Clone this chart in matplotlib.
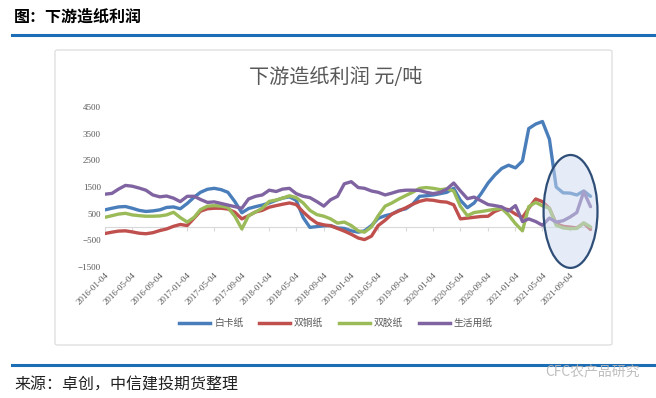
import matplotlib.pyplot as plt
import matplotlib.dates as mdates
from matplotlib.patches import Ellipse, FancyBboxPatch
from matplotlib.lines import Line2D
import pandas as pd

plt.rcParams['font.family'] = ['Noto Sans CJK SC', 'DejaVu Sans']

# monthly readings, 2016-01 .. 2021-12 (yuan / ton)
dates = pd.date_range('2016-01-04', periods=72, freq=pd.DateOffset(months=1))

baika = [640, 700, 750, 765, 700, 620, 580, 600, 640, 730, 750, 680,
         880, 1120, 1300, 1415, 1450, 1400, 1300, 950, 530, 690, 760, 820,
         900, 1000, 1080, 1130, 1000, 350, -20, 10, 40, 50, -40, -60,
         -150, -200, -150, 50, 320, 420, 480, 620, 680, 850, 1150, 1170,
         1200, 1250, 1300, 1450, 1000, 720, 900, 1250, 1650, 1950, 2200, 2320,
         2220, 2480, 3700, 3870, 3965, 3300, 1500, 1280, 1270, 1200, 1350, 1150]

shuangtong = [-250, -200, -160, -150, -190, -240, -260, -220, -140, -80, 20, 90,
              50, 330, 590, 680, 700, 700, 670, 550, 300, 420, 560, 620,
              740, 800, 850, 900, 840, 560, 330, 140, 75, 40, -60, -160,
              -280, -420, -480, -350, 50, 250, 480, 600, 720, 850, 960, 1020,
              1000, 950, 930, 830, 300, 330, 360, 390, 400, 580, 680, 650,
              480, 350, 700, 1050, 950, 700, 120, 20, -10, -40, 140, -100]

shuangjiao = [360, 420, 480, 510, 450, 420, 400, 400, 410, 450, 550, 350,
              180, 360, 650, 780, 800, 780, 730, 400, -80, 420, 560, 700,
              960, 1010, 1080, 1170, 1100, 900, 620, 460, 400, 300, 140, 180,
              50, -150, -200, 0, 420, 780, 900, 1050, 1180, 1300, 1450, 1480,
              1450, 1400, 1430, 1350, 770, 420, 540, 575, 620, 660, 690, 450,
              120, -150, 760, 920, 790, 700, 60, -40, -70, -60, 150, 0]

shenghuo = [1230, 1260, 1420, 1560, 1530, 1460, 1380, 1200, 1130, 1160, 1080, 950,
            1150, 1150, 1030, 920, 940, 880, 820, 760, 700, 1050, 1150, 1200,
            1380, 1330, 1420, 1450, 1250, 1150, 1100, 950, 780, 1020, 1150, 1620,
            1700, 1480, 1450, 1350, 1300, 1200, 1270, 1350, 1380, 1380, 1370, 1300,
            1250, 1300, 1420, 1650, 1350, 1060, 1120, 980, 840, 800, 750, 600,
            800, 200, 300, 200, 60, 330, 180, 230, 370, 540, 1330, 760]

series_names = ['白卡纸', '双铜纸', '双胶纸', '生活用纸']
series_colors = ['#4a7ebb', '#c0504d', '#9bbb59', '#8064a2']
tick_dates = pd.date_range('2016-01-04', '2021-09-04', freq=pd.DateOffset(months=4))

W, H = 656, 398
fig = plt.figure(figsize=(W / 100, H / 100), dpi=100)

# chart frame
frame = FancyBboxPatch((55 / W, 1 - 345 / H), (612 - 55) / W, (345 - 50) / H,
                       boxstyle='round,pad=0,rounding_size=0.004',
                       transform=fig.transFigure, facecolor='white',
                       edgecolor='#d9d9d9', lw=0.8, zorder=-5)
fig.add_artist(frame)

ax = fig.add_axes([105 / W, 1 - 266.7 / H, (593 - 105) / W, (266.7 - 107.3) / H])
ax.patch.set_alpha(0)
ax.set_zorder(2)

ax.axhline(0, color='#d9d9d9', lw=0.8, zorder=1)
ax.plot(tick_dates, [0] * len(tick_dates), ls='none', marker=3, ms=3,
        mec='#d9d9d9', mew=0.8, zorder=1)

for vals, name, col in zip([baika, shuangtong, shuangjiao, shenghuo],
                           series_names, series_colors):
    ax.plot(dates, vals, color=col, lw=2.4, label=name, zorder=3,
            solid_joinstyle='round', solid_capstyle='round')

ax.set_ylim(-1500, 4500)
ax.set_yticks(range(-1500, 4501, 1000))
ax.set_xlim(dates[0], pd.Timestamp('2021-12-15'))
ax.set_xticks(tick_dates)
ax.set_xticklabels([d.strftime('%Y-%m-%d') for d in tick_dates],
                   rotation=45, ha='right', rotation_mode='anchor')
ax.tick_params(length=0, labelsize=6.5, labelcolor='#595959', pad=3)
for lab in ax.get_xticklabels() + ax.get_yticklabels():
    lab.set_fontfamily('Liberation Serif')
for sp in ax.spines.values():
    sp.set_visible(False)

# highlight ellipse on the latest months
ell = Ellipse((mdates.date2num(pd.Timestamp('2021-09-06')), 580),
              width=240, height=4250, transform=ax.transData,
              facecolor=(0.80, 0.86, 0.94, 0.5), edgecolor='#2e4e78',
              lw=1.6, clip_on=False, zorder=5)
ax.add_patch(ell)

handles = [Line2D([], [], color=c, lw=2.5) for c in series_colors]
fig.legend(handles, series_names, loc='center', bbox_to_anchor=(0.512, 1 - 323 / H),
           ncol=4, frameon=False, fontsize=7, handlelength=3.2,
           columnspacing=1.6, handletextpad=0.4, labelcolor='#595959')

fig.text(0.512, 1 - 77 / H, '下游造纸利润 元/吨', fontsize=14.5, color='#595959',
         ha='center', va='center')

# page header / footer
fig.add_artist(Line2D([12 / W, 1], [1 - 35 / H] * 2, color='#1b6db5', lw=2.2))
fig.add_artist(Line2D([12 / W, 1], [1 - 365 / H] * 2, color='#1b6db5', lw=2.2))
fig.text(14 / W, 1 - 17 / H, '图：下游造纸利润', fontsize=11.5, weight='bold', va='center')
fig.text(14 / W, 1 - 385 / H, '来源：卓创，中信建投期货整理', fontsize=11.5,
         color='#222222', va='center')
fig.text(640 / W, 1 - 372 / H, 'CFC农产品研究', fontsize=10, color='#b8b8b8',
         ha='right', va='center', alpha=0.9)

fig.savefig('out.png', dpi=100)
